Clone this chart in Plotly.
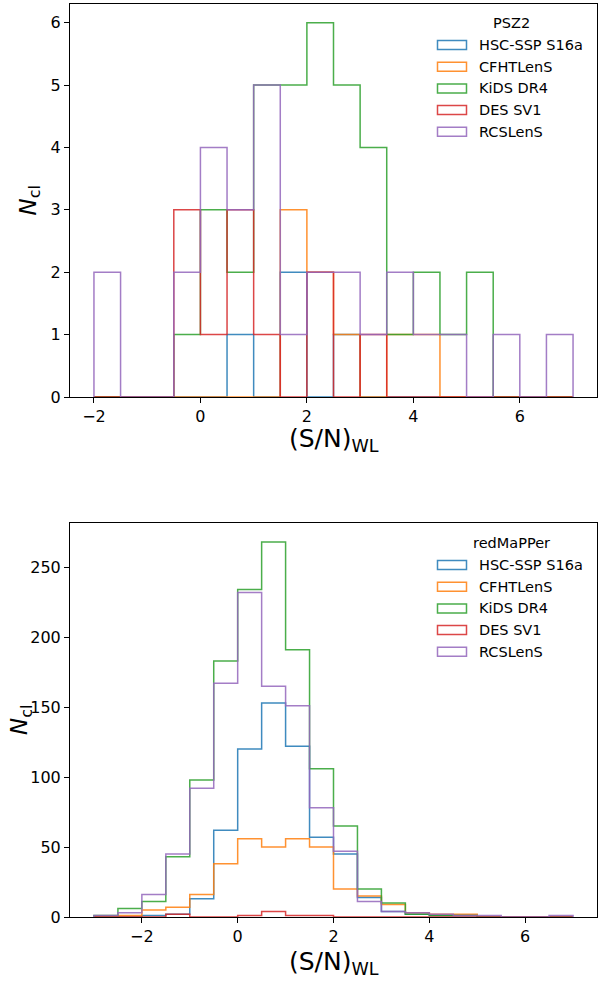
import plotly.graph_objects as go

# ---------------- data ----------------
names = ["HSC-SSP S16a", "CFHTLenS", "KiDS DR4", "DES SV1", "RCSLenS"]
colors = ["#1f77b4", "#ff7f0e", "#2ca02c", "#d62728", "#9467bd"]

# PSZ2 panel: bin edges and counts per survey
psz2_edges = [-2.0, -1.5, -1.0, -0.5, 0.0, 0.5, 1.0, 1.5, 2.0, 2.5,
              3.0, 3.5, 4.0, 4.5, 5.0, 5.5, 6.0, 6.5, 7.0]
psz2_hsc  = [0, 0, 0, 0, 0, 1, 0, 2, 0, 1, 0, 0, 0, 0, 0, 0, 0, 0]
psz2_cfht = [0, 0, 0, 0, 0, 0, 0, 3, 2, 1, 0, 1, 1, 0, 0, 0, 0, 0]
psz2_kids = [0, 0, 0, 1, 3, 2, 5, 5, 6, 5, 4, 1, 2, 1, 2, 0, 0, 0]
psz2_des  = [0, 0, 0, 3, 1, 3, 1, 0, 2, 0, 1, 0, 0, 0, 0, 0, 0, 0]
psz2_rcs  = [2, 0, 0, 2, 4, 3, 5, 1, 2, 2, 1, 2, 1, 1, 0, 1, 0, 1]

# redMaPPer panel
rm_edges = [-3.0, -2.5, -2.0, -1.5, -1.0, -0.5, 0.0, 0.5, 1.0, 1.5, 2.0,
            2.5, 3.0, 3.5, 4.0, 4.5, 5.0, 5.5, 6.0, 6.5, 7.0]
rm_hsc  = [0, 0, 1, 2, 13, 62, 120, 153, 122, 57, 45, 14, 4, 2, 1, 1, 0, 0, 0, 0]
rm_cfht = [0, 1, 5, 7, 16, 38, 56, 50, 56, 50, 20, 15, 9, 3, 2, 2, 0, 0, 0, 0]
rm_kids = [1, 6, 11, 43, 98, 183, 234, 268, 191, 106, 65, 20, 10, 2, 1, 1, 0, 0, 0, 0]
rm_des  = [0, 0, 0, 2, 0, 0, 1, 4, 1, 1, 0, 0, 0, 0, 0, 0, 0, 0, 0, 0]
rm_rcs  = [1, 3, 16, 45, 92, 167, 232, 165, 151, 78, 47, 11, 4, 3, 2, 1, 1, 0, 0, 1]

psz2_counts = [psz2_hsc, psz2_cfht, psz2_kids, psz2_des, psz2_rcs]
rm_counts = [rm_hsc, rm_cfht, rm_kids, rm_des, rm_rcs]

panel_titles = ["PSZ2", "redMaPPer"]
xlabel = "(S/N)<sub>WL</sub>"
ylabel = "<i>N</i><sub>cl</sub>"

# ---------------- layout geometry ----------------
W, H = 612, 981
ML, MR, MT, MB = 70, 15, 4, 64
PW = W - ML - MR
PH = H - MT - MB


def xp(px):
    return (px - ML) / PW


def yp(py):
    return (H - MB - py) / PH


FONT = "DejaVu Sans"
OPA = 0.85
LW = 1.5


def step_xy(edges, counts):
    xs = [edges[0]]
    ys = [0]
    for i, c in enumerate(counts):
        xs += [edges[i], edges[i + 1]]
        ys += [c, c]
    xs.append(edges[-1])
    ys.append(0)
    return xs, ys


fig = go.Figure()

for panel, (edges, counts) in enumerate([(psz2_edges, psz2_counts), (rm_edges, rm_counts)]):
    xa = "x" if panel == 0 else "x2"
    ya = "y" if panel == 0 else "y2"
    for name, col, c in zip(names, colors, counts):
        xs, ys = step_xy(edges, c)
        fig.add_trace(go.Scatter(x=xs, y=ys, mode="lines", name=name,
                                 line=dict(color=col, width=LW), opacity=OPA,
                                 showlegend=False, xaxis=xa, yaxis=ya,
                                 hoverinfo="skip"))

axis_common = dict(showline=True, mirror=True, linecolor="black", linewidth=1.1,
                   ticks="outside", ticklen=5, tickwidth=1.1, tickcolor="black",
                   showgrid=False, zeroline=False,
                   tickfont=dict(family=FONT, size=16, color="black"))

top_max = max(max(c) for c in psz2_counts)
bot_max = max(max(c) for c in rm_counts)
top_pad = 0.05 * (psz2_edges[-1] - psz2_edges[0])
bot_pad = 0.05 * (rm_edges[-1] - rm_edges[0])

fig.update_layout(
    width=W, height=H,
    margin=dict(l=ML, r=MR, t=MT, b=MB),
    paper_bgcolor="white", plot_bgcolor="white",
    font=dict(family=FONT, color="black"),
    xaxis=dict(domain=[0, 1], anchor="y",
               range=[psz2_edges[0] - top_pad, psz2_edges[-1] + top_pad],
               tick0=0, dtick=2, **axis_common),
    yaxis=dict(domain=[yp(397), 1], anchor="x",
               range=[0, 1.05 * top_max], tick0=0, dtick=1, **axis_common),
    xaxis2=dict(domain=[0, 1], anchor="y2",
                range=[rm_edges[0] - bot_pad, rm_edges[-1] + bot_pad],
                tick0=0, dtick=2, **axis_common),
    yaxis2=dict(domain=[0, yp(523.3)], anchor="x2",
                range=[0, 1.05 * bot_max], tick0=0, dtick=50, **axis_common),
)

annotations = []
shapes = []

# axis titles
for py in (440, 963):
    annotations.append(dict(text=xlabel, xref="paper", yref="paper",
                            x=0.5, y=yp(py), xanchor="center", yanchor="middle",
                            showarrow=False, borderpad=0,
                            font=dict(family=FONT, size=25)))
for px, py in ((30, 200.5), (21, 720)):
    annotations.append(dict(text=ylabel, xref="paper", yref="paper",
                            x=xp(px), y=yp(py), xanchor="center", yanchor="middle",
                            textangle=-90, showarrow=False, borderpad=0,
                            font=dict(family=FONT, size=23)))

# legends (outlined patches like matplotlib step histograms)
for title, title_py in zip(panel_titles, (23, 543)):
    annotations.append(dict(text=title, xref="paper", yref="paper",
                            x=xp(511), y=yp(title_py), xanchor="center",
                            yanchor="middle", showarrow=False, borderpad=0,
                            font=dict(family=FONT, size=14.5)))
    for i, (name, col) in enumerate(zip(names, colors)):
        cy = title_py + 22 + 21.7 * i
        shapes.append(dict(type="rect", xref="paper", yref="paper",
                           x0=xp(437.5), x1=xp(466.5), y0=yp(cy + 4.5), y1=yp(cy - 4.5),
                           line=dict(color=col, width=LW), fillcolor="rgba(0,0,0,0)",
                           opacity=OPA))
        annotations.append(dict(text=name, xref="paper", yref="paper",
                                x=xp(478), y=yp(cy), xanchor="left", yanchor="middle",
                                showarrow=False, borderpad=0,
                                font=dict(family=FONT, size=14.5)))

fig.update_layout(annotations=annotations, shapes=shapes)

fig.write_html("out.html",
               config={"displayModeBar": False},
               post_script="document.body.style.margin='0';document.body.style.overflow='hidden';")
